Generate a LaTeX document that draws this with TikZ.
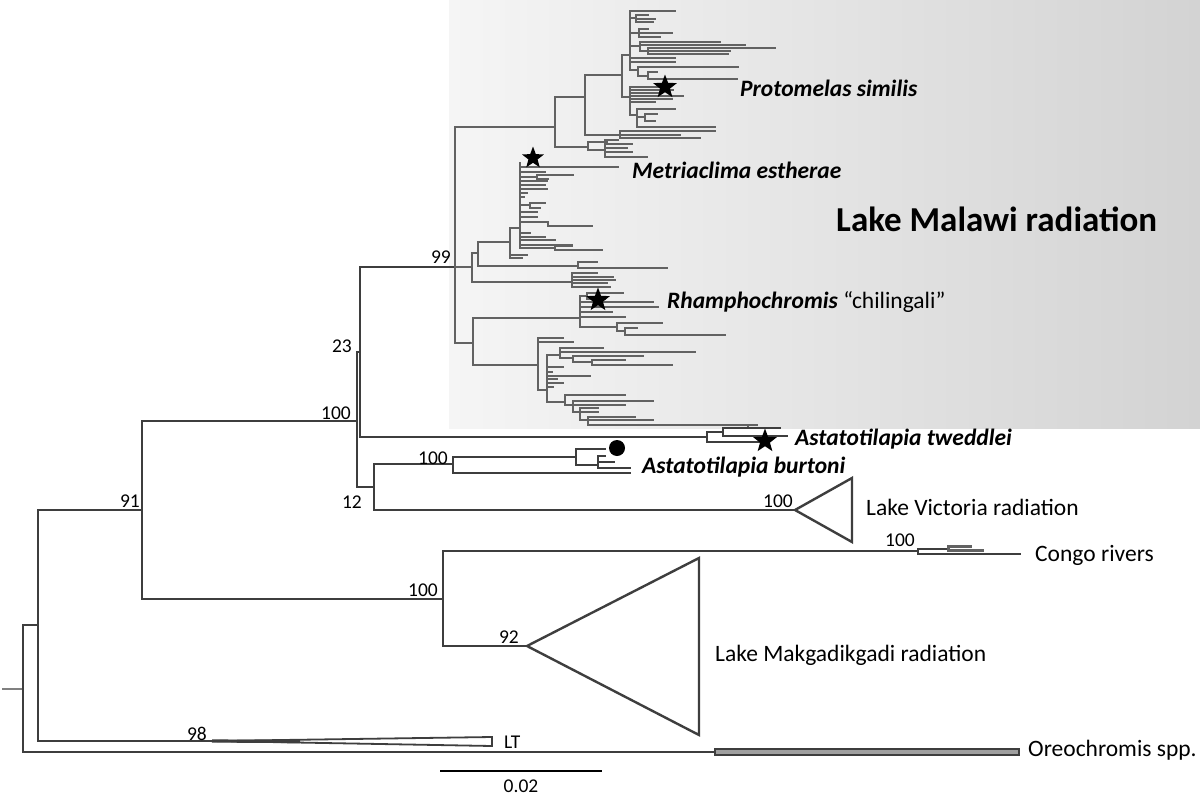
\documentclass[tikz,border=0pt]{standalone}
\usepackage{fontspec}
\setmainfont{Carlito}
\usetikzlibrary{shapes.geometric}
\definecolor{brc}{HTML}{3E3E3E}
\definecolor{mlc}{HTML}{626262}
\definecolor{boxl}{HTML}{F5F5F5}
\definecolor{boxr}{HTML}{D3D3D3}
\newcommand\tipfan[4]{\draw[ml] (#1,#2) -- (#1,#3);
  \foreach \yy/\xx in {#4} {\draw[ml] (#1,\yy) -- (\xx,\yy);}}
\begin{document}
\begin{tikzpicture}[x=1pt,y=-1pt,
  br/.style={draw=brc,line width=2.9pt,line cap=rect},
  ml/.style={draw=mlc,line width=2.6pt,line cap=rect},
  supp/.style={font=\fontsize{19.5}{20}\selectfont, anchor=base east, inner sep=0pt},
  lab/.style={font=\fontsize{23.5}{24}\selectfont, anchor=base west, inner sep=0pt},
  blab/.style={font=\fontsize{23.5}{24}\selectfont\bfseries\itshape, anchor=base west, inner sep=0pt},
  starnode/.style={star, star points=5, star point ratio=2.4, fill=black, draw=none, minimum size=25pt, inner sep=0pt},
  tri/.style={draw=brc,line width=2.4pt,fill=white,line join=miter}]
\useasboundingbox (0,0) rectangle (1200,798);
\shade[left color=boxl, right color=boxr] (449,0) rectangle (1200,428);

% ---- outer tree coordinates
\coordinate (stub) at (3,689);
\coordinate (R) at (23,689);
\coordinate (N1) at (38,625);
\coordinate (N91) at (142,510);
\coordinate (N100a) at (357,421);
\coordinate (N23) at (360,352);
\coordinate (N12) at (374,487);
\coordinate (NB) at (453,464);
\coordinate (NB1) at (576,457);
\coordinate (NB2) at (598,465);
\coordinate (bt1) at (605,449);
\coordinate (bt2) at (630,473);
\coordinate (VA) at (795,510);
\coordinate (N100c) at (443,599);
\coordinate (NC) at (918,551);
\coordinate (NC1) at (948,549);
\coordinate (ct1) at (1020,554);
\coordinate (MK) at (527,646);
\coordinate (LT0) at (212,741);
\coordinate (OR0) at (715,752);
\coordinate (M) at (455,267);
\coordinate (NT) at (707,437);
\coordinate (NT1) at (723,432);
\coordinate (NT2) at (748,428);
\coordinate (tt1) at (762,442);
\coordinate (tt2) at (787,436);

\draw[br,draw=gray] (stub) -- (R);
\draw[br] (R) |- (N1);
\draw[br] (R) |- (OR0);
\draw[br] (N1) |- (N91);
\draw[br] (N1) |- (LT0);
\draw[br] (N91) |- (N100a);
\draw[br] (N91) |- (N100c);
\draw[br] (N100a) |- (N23);
\draw[br] (N100a) |- (N12);
\draw[br] (N23) |- (M);
\draw[br] (N23) |- (NT);
\draw[br] (N12) |- (NB);
\draw[br] (N12) |- (VA);
\draw[br] (NB) |- (NB1);
\draw[br] (NB) |- (bt2);
\draw[br] (NB1) |- (bt1);
\draw[br] (NB1) |- (NB2);
\draw[br] (NB2) |- (605,456);
\draw[br] (NB2) |- (614,462);
\draw[br] (NB2) |- (630,468);
\draw[br] (N100c) |- (NC);
\draw[br] (N100c) |- (MK);
\draw[br] (NC) |- (NC1);
\draw[br] (NC) |- (ct1);
\draw[ml,line width=3pt] (NC1) |- (970,546);
\draw[ml,line width=3pt] (NC1) |- (982,550);
\draw[br] (NT) |- (NT1);
\draw[br] (NT) |- (tt1);
\draw[br] (NT1) |- (NT2);
\draw[br] (NT1) |- (tt2);
\draw[ml] (NT2) |- (755,425);
\draw[br] (NT2) |- (780,428);

% collapsed clades
\draw[tri] (VA) -- (852,478) -- (852,542) -- cycle;
\draw[tri] (MK) -- (699,558) -- (699,735) -- cycle;
\draw[tri,line width=1.8pt] (LT0) -- (492,737) -- (492,746) -- cycle;
\draw[brc,line width=3.2pt] (LT0) -- (300,741.5);
\draw[draw=brc,line width=1.4pt,fill=gray!75] (OR0) |- (1019,749) |- (715,755) -- cycle;

% ---- Malawi clade
\coordinate (MA1) at (555,127);
\coordinate (MB) at (472,267);
\coordinate (MC) at (473,343);
\draw[ml] (M) |- (MA1);
\draw[ml] (M) -- (MB);
\draw[ml] (M) |- (MC);
\coordinate (MP) at (585,97);
\coordinate (MQ) at (588,147);
\draw[ml] (MA1) |- (MP);
\draw[ml] (MA1) |- (MQ);
\coordinate (MP1) at (622,75);
\coordinate (MP2) at (620,135);
\draw[ml] (MP) |- (MP1);
\draw[ml] (MP) |- (MP2);
\coordinate (PA) at (630,55);
\coordinate (PB) at (630,97);
\draw[ml] (MP1) |- (PA);
\draw[ml] (MP1) |- (PB);
% Protomelas clade
\tipfan{630}{11}{70}{11/675, 58/675, 62/675}
\draw[ml] (630,18) -- (636,18); \tipfan{636}{15}{22}{15/648, 19/655, 22/653}
\draw[ml] (630,33) -- (639,33); \tipfan{639}{29}{37}{29/648, 33/672, 37/660}
\draw[ml] (630,46) -- (640,46); \tipfan{640}{42}{51}{42/720, 45/745}
\draw[ml] (640,51) -- (648,51); \tipfan{648}{48}{54}{48/775, 51/730, 54/728}
\draw[ml] (630,70) -- (638,70); \tipfan{638}{67}{76}{67/738}
\draw[ml] (638,76) -- (648,76); \tipfan{648}{72}{79}{72/657, 79/737}
\tipfan{630}{87}{115}{87/667, 90/673, 93/662, 96/683, 99/672, 102/655}
\draw[ml] (630,115) -- (637,115); \tipfan{637}{109}{127}{109/675, 127/715}
\draw[ml] (637,117) -- (645,117); \tipfan{645}{114}{121}{114/657, 121/655}
\tipfan{620}{131}{138}{131/715, 135/680, 138/700}
\tipfan{588}{142}{150}{142/607}
\draw[ml] (588,150) -- (605,150); \tipfan{605}{140}{157}{140/618, 144/632, 148/627, 152/632, 157/647}
% middle clade
\coordinate (MB1) at (478,253);
\coordinate (MB2) at (572,282);
\coordinate (MB3) at (578,266);
\coordinate (MN) at (510,242);
\coordinate (Me) at (520,228);
\draw[ml] (MB) |- (MB1);
\draw[ml] (MB) |- (MB2);
\draw[ml] (MB1) |- (MN);
\draw[ml] (MB1) |- (MB3);
\draw[ml] (MN) |- (Me);
\draw[ml] (MN) |- (527,255);
\draw[ml] (MN) |- (522,258);
\tipfan{578}{262}{268}{262/597, 268/667}
\tipfan{572}{273}{287}{273/597, 277/613, 280/615, 283/607, 287/610}
\tipfan{520}{163}{248}{167/618, 172/545, 181/547, 185/545, 189/547, 193/527, 197/524, 212/537, 217/537, 233/530, 237/545, 240/555, 245/572}
\draw[ml] (520,177) -- (537,177); \tipfan{537}{175}{179}{175/573, 179/548}
\draw[ml] (520,205) -- (530,205); \tipfan{530}{203}{208}{203/545, 208/540}
\draw[ml] (520,222) -- (548,222); \tipfan{548}{222}{226}{226/592}
\draw[ml] (520,248) -- (555,248); \tipfan{555}{246}{250}{246/572, 250/602}
% Rhamphochromis and lower clade
\coordinate (MC1) at (580,318);
\coordinate (MC2) at (538,365);
\draw[ml] (MC) |- (MC1);
\draw[ml] (MC) |- (MC2);
\tipfan{580}{296}{327}{302/653, 307/658, 312/612, 317/625}
\draw[ml] (580,296) -- (587,296); \tipfan{587}{293}{299}{293/623, 299/605}
\draw[ml] (580,327) -- (617,327); \tipfan{617}{323}{331}{323/662}
\draw[ml] (617,331) -- (625,331); \tipfan{625}{328}{335}{328/637, 335/725}
\tipfan{538}{338}{390}{338/563, 342/573}
\draw[ml] (538,390) -- (547,390);
\tipfan{547}{355}{402}{367/563, 372/552, 376/590, 379/557, 383/563, 387/553}
\draw[ml] (547,355) -- (560,355); \tipfan{560}{348}{358}{348/603, 352/695}
\draw[ml] (560,358) -- (573,358); \tipfan{573}{356}{362}{356/643}
\draw[ml] (573,362) -- (592,362); \tipfan{592}{360}{365}{360/625, 365/672}
\draw[ml] (547,402) -- (565,402); \tipfan{565}{395}{405}{395/625}
\draw[ml] (565,405) -- (573,405); \tipfan{573}{401}{412}{401/653, 405/625}
\draw[ml] (573,412) -- (580,412); \tipfan{580}{408}{420}{408/598, 412/598}
\draw[ml] (580,420) -- (588,420); \tipfan{588}{417}{425}{417/635, 420/653, 425/757}

% ---- markers
\node[starnode] (s1) at (665,87) {};
\node[starnode,minimum size=23pt] (s2) at (533,158) {};
\node[starnode] (s3) at (598,300) {};
\node[starnode] (s4) at (765,441) {};
\node[circle,fill=black,minimum size=16pt,inner sep=0pt] (dot) at (617,448) {};

% ---- support values
\node[supp] (v91) at (140,507) {91};
\node[supp] (v100a) at (351,419) {100};
\node[supp] (v23) at (352,352) {23};
\node[supp] (v99) at (451,263) {99};
\node[supp] (v12) at (362,508) {12};
\node[supp] (v100b) at (448,464) {100};
\node[supp] (v100v) at (793,507) {100};
\node[supp] (v100k) at (915,546) {100};
\node[supp] (v100c) at (438,596) {100};
\node[supp] (v92) at (519,643) {92};
\node[supp] (v98) at (207,740) {98};

% ---- labels
\node[blab] (lp) at (740,96) {Protomelas similis};
\node[blab] (lm) at (632,178) {Metriaclima estherae};
\node[blab] (lr) at (667,308) {Rhamphochromis \mdseries\upshape “chilingali”};
\node[font=\fontsize{35}{36}\selectfont\bfseries, anchor=base west, inner sep=0pt] (lmal) at (836,231) {Lake Malawi radiation};
\node[blab] (ltw) at (795,445) {Astatotilapia tweddlei};
\node[blab] (lbu) at (642,473) {Astatotilapia burtoni};
\node[lab] (lvi) at (866,515) {Lake Victoria radiation};
\node[lab] (lco) at (1035,561) {Congo rivers};
\node[lab] (lmk) at (715,661) {Lake Makgadikgadi radiation};
\node[lab] (lor) at (1028,756) {Oreochromis spp.};
\node[font=\fontsize{19.5}{20}\selectfont, anchor=base west, inner sep=0pt] (llt) at (504,748) {LT};

% ---- scale bar
\coordinate (sb1) at (440,771);
\coordinate (sb2) at (602,771);
\draw[black,line width=1.1pt] (sb1) -- (sb2);
\node[font=\fontsize{19.5}{20}\selectfont, anchor=base, inner sep=0pt] (sbl) at (521,792) {0.02};
\end{tikzpicture}
\end{document}
